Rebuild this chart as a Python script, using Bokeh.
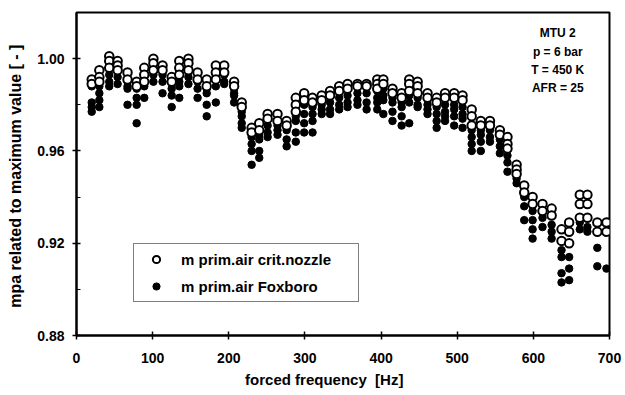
from bokeh.plotting import figure
from bokeh.models import FixedTicker, Legend, LegendItem, Label, Range1d, NumeralTickFormatter
from bokeh.embed import file_html
from bokeh.resources import INLINE

# forced frequency [Hz] for each measurement column
freq = [20, 30, 43, 54, 67, 79, 89, 101, 113, 125,
        135, 147, 159, 171, 183, 194, 207, 217, 230, 240,
        251, 264, 276, 288, 299, 310, 322, 333, 345, 356,
        369, 381, 395, 403, 415, 427, 437, 448, 461, 473,
        484, 496, 507, 519, 531, 543, 556, 566, 578, 588,
        599, 612, 624, 637, 647, 661, 671, 684, 696]

# m prim.air crit.nozzle (open circles), repeated readings per frequency
nozzle = [
    [0.991, 0.989], [0.995, 0.992, 0.990], [1.001, 0.999, 0.996], [0.999, 0.997, 0.995],
    [0.994, 0.991], [0.990, 0.988], [0.996, 0.993, 0.990], [1.000, 0.998, 0.995],
    [0.997, 0.995], [0.992, 0.990], [0.999, 0.996, 0.993], [1.000, 0.998, 0.995],
    [0.994, 0.991], [0.991, 0.988], [0.997, 0.994, 0.991], [0.997, 0.994],
    [0.990, 0.988], [0.981, 0.979], [0.970, 0.968], [0.972, 0.969],
    [0.976, 0.974], [0.976, 0.973], [0.973, 0.971], [0.983, 0.980, 0.977],
    [0.985, 0.982], [0.983, 0.981], [0.984, 0.982], [0.986, 0.984],
    [0.988, 0.986], [0.989, 0.987], [0.989, 0.988], [0.989, 0.988],
    [0.991, 0.989, 0.987], [0.991, 0.989], [0.987, 0.985], [0.985, 0.983],
    [0.991, 0.989, 0.986], [0.990, 0.988, 0.985], [0.985, 0.983], [0.983, 0.981],
    [0.985, 0.983], [0.985, 0.983], [0.984, 0.982], [0.978, 0.975, 0.971],
    [0.973, 0.971], [0.973, 0.971], [0.969, 0.967], [0.966, 0.963, 0.961],
    [0.954, 0.952, 0.950], [0.945, 0.942], [0.940, 0.937], [0.937, 0.934],
    [0.935, 0.932], [0.926, 0.921], [0.929, 0.925, 0.920], [0.941, 0.937, 0.931],
    [0.941, 0.937, 0.931], [0.929, 0.925], [0.929, 0.925],
]

# m prim.air Foxboro (filled circles), repeated readings per frequency
foxboro = [
    [0.988, 0.981, 0.979, 0.977], [0.988, 0.985, 0.982, 0.979], [0.997, 0.993, 0.990, 0.988],
    [0.995, 0.992, 0.989], [0.990, 0.988, 0.987, 0.980], [0.987, 0.983, 0.980, 0.972],
    [0.992, 0.988, 0.983], [0.996, 0.993, 0.990], [0.993, 0.990, 0.985],
    [0.990, 0.987, 0.984, 0.979], [0.994, 0.990, 0.988, 0.983], [0.996, 0.992, 0.989],
    [0.990, 0.987, 0.983], [0.987, 0.985, 0.980, 0.975], [0.992, 0.988, 0.981],
    [0.993, 0.990, 0.989], [0.987, 0.985, 0.984, 0.981], [0.977, 0.975, 0.972, 0.970],
    [0.966, 0.963, 0.960, 0.954], [0.967, 0.965, 0.960, 0.957], [0.971, 0.968, 0.966],
    [0.971, 0.969, 0.967], [0.969, 0.965, 0.962], [0.975, 0.973, 0.968, 0.964],
    [0.980, 0.976, 0.972, 0.968], [0.979, 0.976, 0.973, 0.968], [0.980, 0.978, 0.976],
    [0.981, 0.978, 0.976], [0.983, 0.980, 0.978], [0.984, 0.981, 0.979],
    [0.985, 0.982, 0.980], [0.985, 0.981, 0.978], [0.986, 0.983, 0.981, 0.978],
    [0.987, 0.984, 0.982, 0.976], [0.983, 0.981, 0.977, 0.973], [0.981, 0.979, 0.975, 0.971],
    [0.984, 0.981, 0.972], [0.983, 0.980, 0.979], [0.980, 0.978, 0.976],
    [0.979, 0.976, 0.973, 0.970], [0.980, 0.977, 0.975, 0.973], [0.980, 0.978, 0.975, 0.971],
    [0.979, 0.976, 0.974, 0.970], [0.969, 0.966, 0.963, 0.960], [0.969, 0.967, 0.964, 0.960],
    [0.969, 0.966, 0.964], [0.965, 0.962, 0.959], [0.958, 0.955, 0.951],
    [0.948, 0.946], [0.940, 0.936, 0.930], [0.934, 0.930, 0.926, 0.922],
    [0.931, 0.927], [0.928, 0.925, 0.922], [0.917, 0.914, 0.907, 0.903],
    [0.914, 0.909, 0.904], [0.929, 0.926], [0.927, 0.925],
    [0.918, 0.910], [0.909],
]

x_ticks = [0, 100, 200, 300, 400, 500, 600, 700]
y_ticks = [0.88, 0.92, 0.96, 1.00]
y_minor = [0.90, 0.94, 0.98, 1.02]
info_lines = ["MTU 2", "p = 6 bar", "T = 450 K", "AFR = 25"]

FONT = "Liberation Sans"
NB = "\u00a0"


def flatten(xs, groups):
    fx, fy = [], []
    for x, g in zip(xs, groups):
        for v in g:
            fx.append(x)
            fy.append(v)
    return fx, fy


nx, ny = flatten(freq, nozzle)
fx, fy = flatten(freq, foxboro)

p = figure(width=625, height=395, output_backend="svg", toolbar_location=None,
           x_range=Range1d(0, 700), y_range=Range1d(0.88, 1.02),
           min_border_left=76, min_border_right=16, min_border_top=12, min_border_bottom=60)
p.background_fill_color = "white"
p.border_fill_color = "white"
p.xgrid.visible = False
p.ygrid.visible = False
p.outline_line_color = "black"
p.outline_line_width = 2

r_fox = p.scatter(fx, fy, marker="circle", size=7.5, fill_color="black", line_color="black", line_width=1)
r_noz = p.scatter(nx, ny, marker="circle", size=8.5, fill_color="white", line_color="black", line_width=2)

# axes
p.xaxis.ticker = FixedTicker(ticks=x_ticks)
p.yaxis.ticker = FixedTicker(ticks=y_ticks, minor_ticks=y_minor)
p.yaxis.formatter = NumeralTickFormatter(format="0.00")
for ax in (p.xaxis[0], p.yaxis[0]):
    ax.axis_line_width = 2
    ax.axis_line_color = "black"
    ax.major_tick_line_width = 1.5
    ax.major_tick_in = 4
    ax.major_tick_out = 4
    ax.minor_tick_in = 4
    ax.minor_tick_out = 0
    ax.major_label_text_font = FONT
    ax.major_label_text_font_style = "bold"
    ax.major_label_text_font_size = "14px"
    ax.major_label_text_color = "black"
    ax.axis_label_text_font = FONT
    ax.axis_label_text_font_style = "bold"
    ax.axis_label_text_color = "black"
p.xaxis.minor_tick_line_color = None
p.xaxis.major_label_standoff = 13
p.yaxis.major_label_standoff = 8
p.yaxis.axis_label = "mpa related to maximum value  [ - ]"
p.yaxis.axis_label_text_font_size = "16px"
p.yaxis.axis_label_standoff = 10
p.xaxis.axis_label = "forced frequency" + NB + NB + "[Hz]" + NB * 9
p.xaxis.axis_label_text_font_size = "15px"
p.xaxis.axis_label_standoff = 5

# info block
info_y = [1.0109, 1.0027, 0.9949, 0.9871]
for t, yy in zip(info_lines, info_y):
    p.add_layout(Label(x=632, y=yy, text=t, text_align="center", text_baseline="middle",
                       text_font=FONT, text_font_style="bold", text_font_size="12px",
                       text_color="black"))

legend = Legend(items=[LegendItem(label="m prim.air crit.nozzle" + NB * 5, renderers=[r_noz]),
                       LegendItem(label="m prim.air Foxboro", renderers=[r_fox])],
                location=(57, 33))
legend.label_text_font = FONT
legend.label_text_font_style = "bold"
legend.label_text_font_size = "15px"
legend.label_text_color = "black"
legend.border_line_color = "black"
legend.border_line_width = 1.2
legend.background_fill_alpha = 1
legend.glyph_width = 32
legend.glyph_height = 18
legend.label_height = 18
legend.spacing = 9
legend.margin = 0
legend.label_standoff = 9
legend.padding = 6
p.add_layout(legend, "center")

open("out.html", "w").write(file_html(p, INLINE))
